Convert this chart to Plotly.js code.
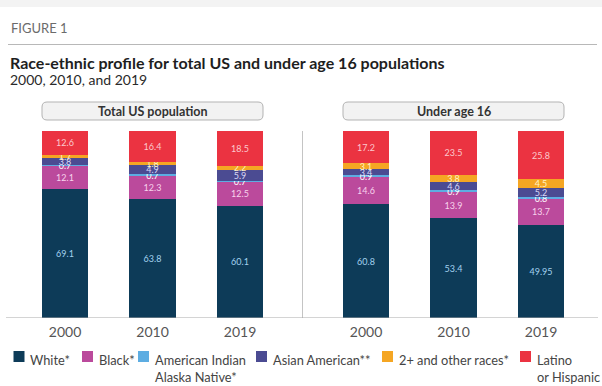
<!DOCTYPE html>
<html>
<head>
<meta charset="utf-8">
<script src="https://cdn.plot.ly/plotly-3.0.1.min.js"></script>
<style>html,body{margin:0;padding:0;background:#fff;}#chart{width:602px;height:386px;}</style>
</head>
<body>
<div id="chart"></div>
<script>
// ---- data ----
const years = ['2000', '2010', '2019'];
const panelTitles = ['Total US population', 'Under age 16'];
const seriesNames = ['White*', 'Black*', 'American Indian<br>Alaska Native*', 'Asian American**', '2+ and other races*', 'Latino<br>or Hispanic'];

const totalWhite  = [69.1, 63.8, 60.1];
const totalBlack  = [12.1, 12.3, 12.5];
const totalAmInd  = [0.7, 0.7, 0.7];
const totalAsian  = [3.8, 4.9, 5.9];
const totalMulti  = [1.7, 1.8, 2.2];
const totalLatino = [12.6, 16.4, 18.5];

const u16White  = [60.8, 53.4, 49.95];
const u16Black  = [14.6, 13.9, 13.7];
const u16AmInd  = [0.9, 0.9, 0.8];
const u16Asian  = [3.4, 4.6, 5.2];
const u16Multi  = [3.1, 3.8, 4.5];
const u16Latino = [17.2, 23.5, 25.8];

// ---- styles ----
const FONT = 'Lato, "Open Sans", sans-serif';
const colors = ['#0d3b58', '#bb4a9c', '#5dade2', '#4b4b92', '#f5a623', '#eb3341'];
const textColors = ['#a3d2ef', '#f8d3ec', '#ffffff', '#d9d9f6', '#fff2c6', '#fcc9cd'];

const W = 602, H = 386;
const plotTop = 131, plotBottom = 318;
const px = p => p / W;
const py = p => (plotBottom - p) / (plotBottom - plotTop);

const totalSeries = [totalWhite, totalBlack, totalAmInd, totalAsian, totalMulti, totalLatino];
const u16Series = [u16White, u16Black, u16AmInd, u16Asian, u16Multi, u16Latino];

const traces = [];
[[totalSeries, 'x'], [u16Series, 'x2']].forEach(([series, xa]) => {
  series.forEach((vals, i) => {
    traces.push({
      type: 'bar',
      x: years,
      y: vals,
      xaxis: xa,
      yaxis: 'y',
      name: seriesNames[i],
      showlegend: false,
      marker: {color: colors[i], line: {width: 0}},
      text: vals.map(v => String(v)),
      textposition: 'inside',
      insidetextanchor: 'middle',
      constraintext: 'none',
      textangle: 0,
      textfont: {family: FONT, size: 9, color: textColors[i]},
      hoverinfo: 'skip'
    });
  });
});

function roundRect(x0, y0, x1, y1, r) {
  const X = v => px(v).toFixed(5), Y = v => py(v).toFixed(5);
  return `M ${X(x0 + r)} ${Y(y0)} L ${X(x1 - r)} ${Y(y0)} Q ${X(x1)} ${Y(y0)} ${X(x1)} ${Y(y0 + r)} ` +
    `L ${X(x1)} ${Y(y1 - r)} Q ${X(x1)} ${Y(y1)} ${X(x1 - r)} ${Y(y1)} L ${X(x0 + r)} ${Y(y1)} ` +
    `Q ${X(x0)} ${Y(y1)} ${X(x0)} ${Y(y1 - r)} L ${X(x0)} ${Y(y0 + r)} Q ${X(x0)} ${Y(y0)} ${X(x0 + r)} ${Y(y0)} Z`;
}

const shapes = [
  // top grey band
  {type: 'rect', xref: 'paper', yref: 'paper', x0: 0, x1: 1, y0: py(0), y1: py(7), fillcolor: '#f3f3f3', line: {width: 0}, layer: 'below'},
  // rule under FIGURE 1
  {type: 'line', xref: 'paper', yref: 'paper', x0: px(8), x1: px(597), y0: py(44.5), y1: py(44.5), line: {color: '#b8b8b8', width: 1}},
  // panel header boxes
  {type: 'path', xref: 'paper', yref: 'paper', path: roundRect(42, 102, 263, 120, 5), fillcolor: '#f2f2f2', line: {color: '#b3b3b3', width: 1}},
  {type: 'path', xref: 'paper', yref: 'paper', path: roundRect(343, 102, 564, 120, 5), fillcolor: '#f2f2f2', line: {color: '#b3b3b3', width: 1}},
  // vertical divider
  {type: 'line', xref: 'paper', yref: 'paper', x0: px(302.5), x1: px(302.5), y0: 0, y1: 1, line: {color: '#c4c4c4', width: 1}},
  // baseline axis
  {type: 'line', xref: 'paper', yref: 'y', x0: px(6), x1: px(598), y0: 0, y1: 0, line: {color: '#a9a9a9', width: 1}, layer: 'above'}
];

const annotations = [
  {text: 'FIGURE 1', x: px(9), y: py(28), xanchor: 'left', yanchor: 'middle', font: {family: FONT, size: 13, color: '#6b6b6b'}},
  {text: '<b>Race-ethnic profile for total US and under age 16 populations</b>', x: px(8), y: py(62), xanchor: 'left', yanchor: 'middle', font: {family: FONT, size: 16, color: '#1e1e1e'}},
  {text: '2000, 2010, and 2019', x: px(8), y: py(79), xanchor: 'left', yanchor: 'middle', font: {family: FONT, size: 14, color: '#2a2a2a'}},
  {text: '<b>' + panelTitles[0] + '</b>', x: px(152.5), y: py(111), xanchor: 'center', yanchor: 'middle', font: {family: FONT, size: 12.5, color: '#333'}},
  {text: '<b>' + panelTitles[1] + '</b>', x: px(453.5), y: py(111), xanchor: 'center', yanchor: 'middle', font: {family: FONT, size: 12.5, color: '#333'}}
].map(a => Object.assign({xref: 'paper', yref: 'paper', showarrow: false, align: 'left'}, a));

// legend (custom)
const legendSquares = [13.5, 82, 138, 256, 382, 520];
legendSquares.forEach((lx, i) => {
  shapes.push({type: 'rect', xref: 'paper', yref: 'paper', x0: px(lx), x1: px(lx + 11), y0: py(351), y1: py(362), fillcolor: colors[i], line: {width: 0}});
  annotations.push({xref: 'paper', yref: 'paper', showarrow: false, align: 'left', text: seriesNames[i],
    x: px(lx + 14.5), y: py(349.5), xanchor: 'left', yanchor: 'top', font: {family: FONT, size: 12.8, color: '#444'}});
});

const axisCommon = {type: 'category', showgrid: false, zeroline: false, showline: false, ticks: '',
  tickfont: {family: FONT, size: 14, color: '#555'}, fixedrange: true, anchor: 'y', ticklabelstandoff: 4};

const layout = {
  width: W, height: H,
  margin: {l: 0, r: 0, t: plotTop, b: H - plotBottom, pad: 0},
  paper_bgcolor: '#ffffff', plot_bgcolor: '#ffffff',
  barmode: 'stack', bargap: 0.463,
  showlegend: false,
  xaxis: Object.assign({domain: [px(21.25), px(283.75)]}, axisCommon),
  xaxis2: Object.assign({domain: [px(322.25), px(584.75)]}, axisCommon),
  yaxis: {range: [0, 100], visible: false, fixedrange: true},
  shapes: shapes,
  annotations: annotations,
  font: {family: FONT}
};

Plotly.newPlot('chart', traces, layout, {displayModeBar: false, staticPlot: true});
</script>
</body>
</html>
